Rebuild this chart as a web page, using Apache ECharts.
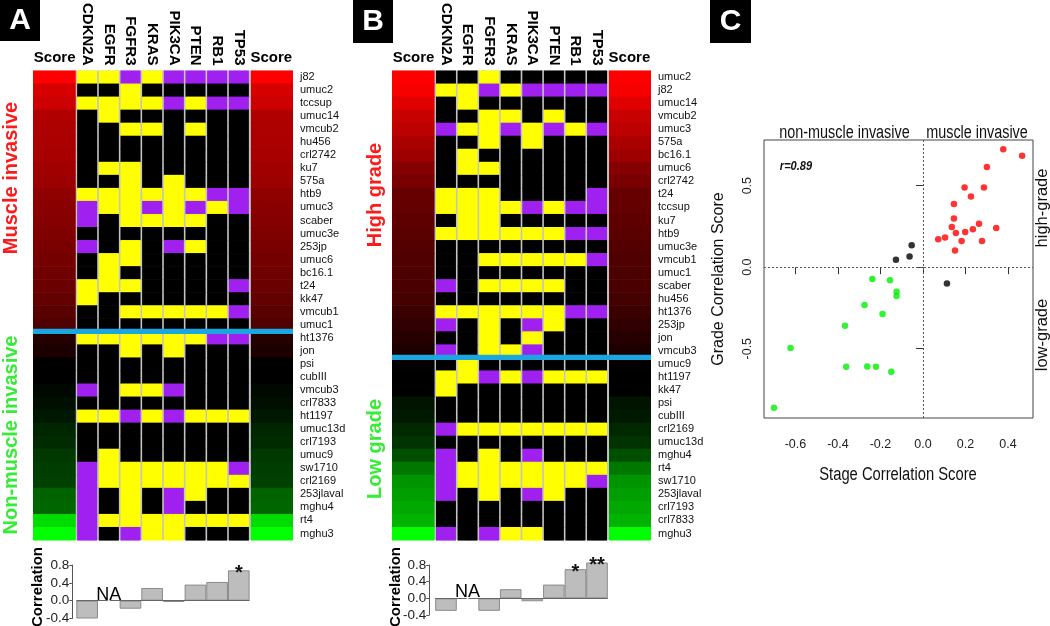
<!DOCTYPE html>
<html><head><meta charset="utf-8">
<script src="https://cdn.jsdelivr.net/npm/echarts@6/dist/echarts.min.js"></script>
<style>html,body{margin:0;padding:0;background:#fff}#c{width:1050px;height:626px}</style>
</head><body><div id="c"></div><script>
// ---------------- data ----------------
const genes = ['CDKN2A','EGFR','FGFR3','KRAS','PIK3CA','PTEN','RB1','TP53'];
// mutation codes per cell line: K = wild type, Y = yellow, P = purple (ordered by rowsA)
const rowsA = ['j82','umuc2','tccsup','umuc14','vmcub2','hu456','crl2742','ku7','575a','htb9','umuc3','scaber','umuc3e','253jp','umuc6','bc16.1','t24','kk47','vmcub1','umuc1',
  'ht1376','jon','psi','cubIII','vmcub3','crl7833','ht1197','umuc13d','crl7193','umuc9','sw1710','crl2169','253jlaval','mghu4','rt4','mghu3'];
const mutA = ['YYPYPPPP','KKYKKKKK','YYYYPYPP','KYKKKKKK','KKYYKYKK','KKKKKKKK','KKKKKKKK','KYYKKKKK','KKYKYKKK','YYYYYYPP','PYYPYPYP','PKYYYYKK','KKKKKKKK','PKYKPYKK','KYYKKKKK','KYKKKKKK','YYYKKKKP','YKKKKKKK','KKYYYYYP','KKKKKKKK',
  'YYYYYYPP','KKYKYKKK','KKKKKKKK','KKKKKKKK','PKYYPKKK','KKKKKKKK','YYPYPYYY','KKKKKKKK','KKKKKKKK','KYKKKKKK','PYYYYYYP','PYYYYYYY','PKYKPYKK','PKYKPKKK','PYYYYYYY','PKPYYKKK'];
const scoreA = [1.0,0.84,0.80,0.69,0.68,0.67,0.66,0.63,0.61,0.56,0.54,0.52,0.50,0.48,0.46,0.44,0.42,0.39,0.35,0.31,
  0.14,0.11,0.0,0.0,-0.03,-0.06,-0.09,-0.15,-0.17,-0.22,-0.24,-0.25,-0.39,-0.40,-0.86,-1.0];
const groupSizeA = 20;
const rowsB = ['umuc2','j82','umuc14','vmcub2','umuc3','575a','bc16.1','umuc6','crl2742','t24','tccsup','ku7','htb9','umuc3e','vmcub1','umuc1','scaber','hu456','ht1376','253jp','jon','vmcub3',
  'umuc9','ht1197','kk47','psi','cubIII','crl2169','umuc13d','mghu4','rt4','sw1710','253jlaval','crl7193','crl7833','mghu3'];
const scoreB = [1.0,0.97,0.88,0.78,0.74,0.67,0.62,0.52,0.47,0.40,0.39,0.37,0.35,0.33,0.31,0.30,0.29,0.27,0.23,0.19,0.15,0.11,
  0.02,0.0,0.0,-0.08,-0.10,-0.16,-0.20,-0.31,-0.47,-0.58,-0.62,-0.66,-0.70,-1.0];
const groupSizeB = 22;
const corrA = [-0.40, null, -0.18, 0.285, -0.03, 0.36, 0.42, 0.68];
const starsA = ['','','','','','','','*'];
const corrB = [-0.30, null, -0.30, 0.22, -0.07, 0.33, 0.70, 0.86];
const starsB = ['','','','','','','*','**'];
const stageScore = [0.378,0.467,0.301,0.196,0.287,0.226,0.146,0.146,0.136,0.155,0.199,0.235,0.264,0.345,0.072,0.104,0.182,0.278,0.151,
  -0.127,-0.063,-0.053,0.113,
  -0.238,-0.155,-0.124,-0.124,-0.275,-0.190,-0.367,-0.623,-0.361,-0.262,-0.221,-0.149,-0.701];
const gradeScore = [0.723,0.684,0.615,0.488,0.488,0.434,0.387,0.299,0.246,0.209,0.215,0.232,0.266,0.240,0.172,0.182,0.160,0.160,0.102,
  0.045,0.066,0.135,-0.100,
  -0.072,-0.080,-0.150,-0.176,-0.232,-0.287,-0.359,-0.496,-0.611,-0.609,-0.611,-0.641,-0.862];

// ---------------- styling helpers ----------------
const SANS = '"Liberation Sans", Arial, Helvetica, sans-serif';
const mutCode = {K:0, Y:1, P:2};
const codeColors = ['#000000','#ffff00','#a020f0'];
function scoreColor(v){
  return v >= 0 ? 'rgb(' + Math.round(255*v) + ',0,0)' : 'rgb(0,' + Math.round(-255*v) + ',0)';
}
const mutByLine = {};
rowsA.forEach((r,i)=>{ mutByLine[r] = mutA[i]; });

function buildCells(rows, scores){
  const out = [];
  rows.forEach((r,i)=>{
    out.push([0, 2, i, 0, scores[i]]);
    const m = mutByLine[r];
    for (let j=0;j<genes.length;j++) out.push([2+j, 3+j, i, 1, mutCode[m[j]]]);
    out.push([10, 12, i, 0, scores[i]]);
  });
  return out;
}
function cellRenderer(params, api){
  const x0 = api.value(0), x1 = api.value(1), r = api.value(2), kind = api.value(3), v = api.value(4);
  const a = api.coord([x0, r]), b = api.coord([x1, r]);
  const h = api.size([0, 1])[1];
  let left = a[0], right = b[0];
  if (kind === 1) { left += 0.8; right -= 0.8; }
  else if (x0 > 0) { left += 1.2; }
  else { right -= 0.6; }
  return {type:'rect', shape:{x:left, y:a[1]-h/2, width:right-left, height:h+0.6},
    style:{fill: kind === 1 ? codeColors[v] : scoreColor(v)}};
}
function dividerRenderer(params, api){
  const r = api.value(1);
  const p = api.coord([0, r]);
  const h = api.size([0, 1])[1];
  return {type:'rect', shape:{x:params.coordSys.x, y:p[1]-h/2-2.6, width:params.coordSys.width, height:5.2},
    style:{fill:'#1aa6df'}};
}
function heatAxes(gridIndex){
  return [
    {type:'value', gridIndex, min:0, max:12, position:'top', axisLine:{show:false}, axisTick:{show:false}, splitLine:{show:false},
      axisLabel:{customValues:[1,11], formatter:()=> 'Score', margin:5, fontFamily:SANS, fontWeight:'bold', fontSize:15, color:'#000'}},
    {type:'value', gridIndex, min:0, max:12, position:'top', axisLine:{show:false}, axisTick:{show:false}, splitLine:{show:false},
      axisLabel:{customValues:genes.map((g,j)=>2.5+j), formatter:(v)=> genes[Math.round(v-2.5)], rotate:90, margin:5,
        fontFamily:SANS, fontWeight:'bold', fontSize:15, color:'#000'}}
  ];
}
function rowAxis(gridIndex, rows){
  return {type:'category', gridIndex, data:rows, inverse:true, position:'right',
    axisLine:{show:false}, axisTick:{show:false}, splitLine:{show:false},
    axisLabel:{margin:7, fontFamily:SANS, fontSize:11, color:'#111', interval:0}};
}
function barYAxis(gridIndex, offset){
  return {type:'value', gridIndex, min:-0.4, max:0.8, interval:0.4, offset,
    axisLine:{show:true, lineStyle:{color:'#555'}}, axisTick:{show:true, length:3, lineStyle:{color:'#555'}},
    splitLine:{show:false},
    axisLabel:{formatter:(v)=>v.toFixed(1), margin:3, fontFamily:SANS, fontSize:13.5, color:'#222'}};
}
function barSeries(xi, yi, vals, stars){
  return {type:'bar', xAxisIndex:xi, yAxisIndex:yi, barCategoryGap:'0%', clip:false,
    data: vals.map(v=>v),
    itemStyle:{color:'#bdbdbd', borderColor:'#8a8a8a', borderWidth:1},
    label:{show:true, position:'top', distance:-13, formatter:(p)=>stars[p.dataIndex], fontSize:20, color:'#111', fontFamily:SANS, fontWeight:'bold'},
    markLine:{silent:true, symbol:'none', label:{show:false}, lineStyle:{color:'#666', width:1, type:'solid'}, data:[{yAxis:0}]}};
}
function naSeries(xi, yi, vals){
  return {type:'scatter', xAxisIndex:xi, yAxisIndex:yi, symbolSize:2, itemStyle:{color:'#ffffff', opacity:1}, z:10,
    data: genes.filter((g,i)=>vals[i]===null).map(g=>[g, 0.0]),
    label:{show:true, position:'top', distance:-4, formatter:'NA', fontFamily:SANS, fontSize:18, color:'#000', textBorderWidth:0, opacity:1}};
}

const cellsA = buildCells(rowsA, scoreA);
const cellsB = buildCells(rowsB, scoreB);

function txt(text, x, y, font, fill, rot, sx){
  return {type:'text', x, y, rotation: rot || 0, scaleX: sx || 1, z:10,
    style:{text, font, fill, align:'center', verticalAlign:'middle', textAlign:'center', textVerticalAlign:'middle'}};
}
const graphics = [
  {type:'rect', shape:{x:0,y:0,width:40,height:41}, style:{fill:'#000'}},
  txt('A', 20, 21, 'bold 30px ' + SANS, '#fff'),
  {type:'rect', shape:{x:353,y:0,width:40,height:43}, style:{fill:'#000'}},
  txt('B', 373, 22, 'bold 30px ' + SANS, '#fff'),
  {type:'rect', shape:{x:710,y:0,width:41,height:43}, style:{fill:'#000'}},
  txt('C', 730.5, 22, 'bold 30px ' + SANS, '#fff'),
  txt('Muscle invasive', 11, 178, 'bold 20px ' + SANS, '#ff1a1a', Math.PI/2),
  txt('Non-muscle invasive', 11, 435, 'bold 20px ' + SANS, '#33ee33', Math.PI/2),
  txt('High grade', 375, 195, 'bold 20px ' + SANS, '#ff1a1a', Math.PI/2),
  txt('Low grade', 375, 449, 'bold 20px ' + SANS, '#33ee33', Math.PI/2),
  txt('Correlation', 38, 587, 'bold 15px ' + SANS, '#000', Math.PI/2),
  txt('Correlation', 396, 587, 'bold 15px ' + SANS, '#000', Math.PI/2),
  txt('non-muscle invasive', 844.5, 133, '18px ' + SANS, '#111', 0, 0.8),
  txt('muscle invasive', 977, 133, '18px ' + SANS, '#111', 0, 0.8),
  txt('high-grade', 1042, 208, '16.5px ' + SANS, '#111', Math.PI/2),
  txt('low-grade', 1042, 335, '16.5px ' + SANS, '#111', Math.PI/2),
  txt('r=0.89', 796, 166, 'italic bold 13px ' + SANS, '#111', 0, 0.85),
  txt('Stage Correlation Score', 898, 475, '18px ' + SANS, '#111', 0, 0.82),
  txt('Grade Correlation Score', 719, 279, '16px ' + SANS, '#111', Math.PI/2)
];

const option = {
  backgroundColor:'#ffffff',
  animation:false,
  textStyle:{fontFamily:SANS},
  grid:[
    {left:33, top:67, width:260, height:473, show:true, backgroundColor:'#c4c4c4', borderWidth:0},
    {left:392, top:67, width:259, height:473, show:true, backgroundColor:'#c4c4c4', borderWidth:0},
    {left:76.3, top:565, width:173.3, height:53.5},
    {left:435.2, top:565, width:172.6, height:50},
    {left:764, top:140, width:269, height:278, show:true, borderColor:'#444', borderWidth:1, backgroundColor:'transparent'}
  ],
  xAxis:[
    ...heatAxes(0),
    ...heatAxes(1),
    {type:'category', gridIndex:2, data:genes, show:false},
    {type:'category', gridIndex:3, data:genes, show:false},
    {type:'value', gridIndex:4, min:-0.748, max:0.518, position:'bottom',
      axisLine:{show:false}, splitLine:{show:false},
      axisTick:{show:true, length:7, customValues:[-0.6,-0.4,-0.2,0,0.2,0.4], lineStyle:{color:'#333'}},
      axisLabel:{customValues:[-0.6,-0.4,-0.2,0,0.2,0.4], formatter:(v)=>v.toFixed(1), margin:20, fontFamily:SANS, fontSize:12.5, color:'#222'}}
  ],
  yAxis:[
    rowAxis(0, rowsA),
    rowAxis(1, rowsB),
    barYAxis(2, 4),
    barYAxis(3, 6),
    {type:'value', gridIndex:4, min:-0.925, max:0.78, position:'left',
      axisLine:{show:false}, splitLine:{show:false},
      axisTick:{show:true, length:7, customValues:[-0.5,0,0.5], lineStyle:{color:'#333'}},
      axisLabel:{customValues:[-0.5,0,0.5], formatter:(v)=>v.toFixed(1), rotate:90, margin:10, fontFamily:SANS, fontSize:12.5, color:'#222'}}
  ],
  series:[
    {type:'custom', xAxisIndex:0, yAxisIndex:0, renderItem:cellRenderer, data:cellsA, encode:{x:[0,1], y:2}, silent:true},
    {type:'custom', xAxisIndex:0, yAxisIndex:0, renderItem:dividerRenderer, data:[[0, groupSizeA]], encode:{x:0, y:1}, silent:true, z:5},
    {type:'custom', xAxisIndex:2, yAxisIndex:1, renderItem:cellRenderer, data:cellsB, encode:{x:[0,1], y:2}, silent:true},
    {type:'custom', xAxisIndex:2, yAxisIndex:1, renderItem:dividerRenderer, data:[[0, groupSizeB]], encode:{x:0, y:1}, silent:true, z:5},
    barSeries(4, 2, corrA, starsA),
    naSeries(4, 2, corrA),
    barSeries(5, 3, corrB, starsB),
    naSeries(5, 3, corrB),
    {type:'scatter', xAxisIndex:6, yAxisIndex:4, symbolSize:6.5,
      data: stageScore.map((x,i)=>[x, gradeScore[i]]),
      itemStyle:{color:(p)=>{ const x=p.value[0], y=p.value[1]; return (x>0&&y>0)?'#ff0000':((x<0&&y<0)?'#00ee00':'#000000'); }},
      markLine:{silent:true, symbol:'none', label:{show:false}, lineStyle:{color:'#555', width:1, type:[2,2]}, data:[{xAxis:0},{yAxis:0}]}}
  ],
  graphic: graphics
};
const chart = echarts.init(document.getElementById('c'), null, {renderer:'canvas'});
chart.setOption(option);
</script></body></html>
